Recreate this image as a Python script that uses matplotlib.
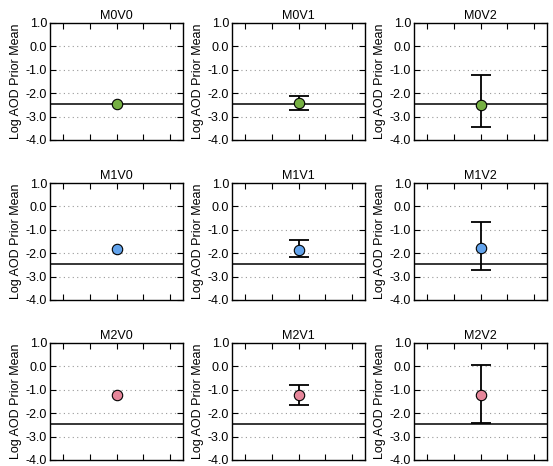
import numpy as np
import matplotlib.pyplot as plt
from matplotlib.ticker import FormatStrFormatter

plt.rcParams['font.family'] = ['Liberation Sans', 'DejaVu Sans']

# panel names, one row per M, one column per V
titles = [["M0V0", "M0V1", "M0V2"],
          ["M1V0", "M1V1", "M1V2"],
          ["M2V0", "M2V1", "M2V2"]]

# prior mean, upper and lower bound (None = no error bar)
means = [[-2.46, -2.42, -2.49],
         [-1.84, -1.86, -1.78],
         [-1.23, -1.23, -1.22]]
upper = [[None, -2.14, -1.24],
         [None, -1.45, -0.66],
         [None, -0.79, 0.08]]
lower = [[None, -2.70, -3.45],
         [None, -2.17, -2.72],
         [None, -1.63, -2.44]]

ref_value = -2.46
row_colors = ['#76b043', '#62a3ec', '#e6869a']

x_pos = 3
x_ticks = [1, 2, 3, 4, 5]
y_ticks = [1.0, 0.0, -1.0, -2.0, -3.0, -4.0]

W, H = 553, 466
fig = plt.figure(figsize=(W / 100, H / 100), dpi=100)

lefts = [50, 232, 414]
tops = [23, 183, 343]
aw, ah = 133, 117

for r in range(3):
    for c in range(3):
        ax = fig.add_axes([lefts[c] / W, 1 - (tops[r] + ah) / H, aw / W, ah / H])
        ax.set_xlim(0.5, 5.5)
        ax.set_ylim(-4, 1)

        # dotted grid at inner ticks
        for y in [0, -1, -2, -3]:
            ax.axhline(y, color='#999999', lw=0.8, ls=(0, (1, 3)), zorder=1)
        ax.axhline(ref_value, color='black', lw=1.1, zorder=2)

        m = means[r][c]
        if upper[r][c] is not None:
            err = [[m - lower[r][c]], [upper[r][c] - m]]
            ax.errorbar([x_pos], [m], yerr=err, fmt='none', ecolor='black',
                        elinewidth=1.3, capsize=7.5, capthick=1.3, zorder=3)
        ax.plot([x_pos], [m], 'o', ms=7.5, mfc=row_colors[r], mec='black',
                mew=0.8, zorder=4)

        ax.set_xticks(x_ticks)
        ax.set_xticklabels([])
        ax.set_yticks(y_ticks)
        ax.yaxis.set_major_formatter(FormatStrFormatter('%.1f'))
        ax.tick_params(direction='in', top=True, right=True, length=4,
                       width=0.8, labelsize=9, pad=2)
        for s in ax.spines.values():
            s.set_linewidth(1.0)
        ax.set_title(titles[r][c], fontsize=9, pad=3)
        ax.set_ylabel("Log AOD Prior Mean", fontsize=9, labelpad=3)

fig.savefig("out.png", dpi=100)
